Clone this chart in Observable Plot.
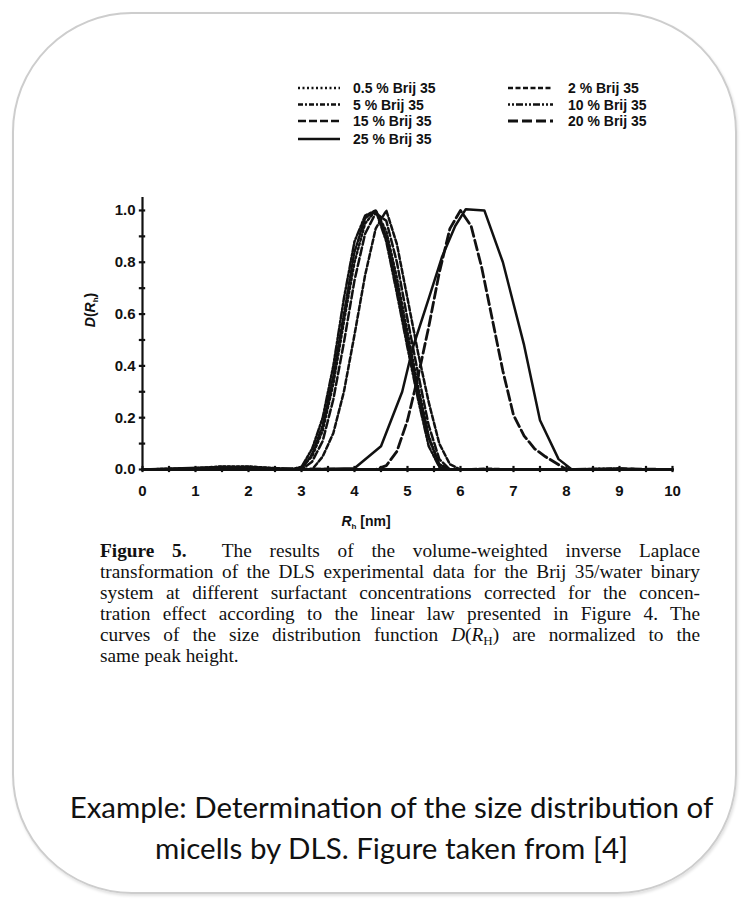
<!DOCTYPE html>
<html>
<head>
<meta charset="utf-8">
<script src="https://cdn.jsdelivr.net/npm/d3@7"></script>
<script src="https://cdn.jsdelivr.net/npm/@observablehq/plot@0.6"></script>
<style>
  html, body { margin: 0; padding: 0; background: #fff; }
  #page { position: relative; width: 753px; height: 901px; overflow: hidden; background: #fff; }
  #frame { position: absolute; left: 12px; top: 12px; width: 721px; height: 878px;
           border: 2px solid #cdcdcd; border-radius: 120px; box-shadow: 1px 2px 3px rgba(0,0,0,0.12); }
  #legend { position: absolute; left: 0; top: 0; width: 753px; height: 160px; }
  #chart { position: absolute; left: 0; top: 180px; }
  #caption { position: absolute; left: 100px; top: 540px; width: 600px;
             font-family: "Liberation Serif", "Times New Roman", serif; font-size: 19.3px; line-height: 21px; color: #111; }
  #caption div { text-align: justify; text-align-last: justify; white-space: nowrap; height: 21px; }
  #caption div.last { text-align-last: left; }
  #caption .sub { font-size: 13px; position: relative; top: 4px; }
  #example { position: absolute; left: 15px; width: 753px; top: 786px; text-align: center;
             font-family: Lato, "Open Sans", sans-serif; font-size: 29.5px; line-height: 41px; color: #111; }
</style>
</head>
<body>
<div id="page">
  <div id="frame"></div>
  <svg id="legend" width="753" height="160"></svg>
  <div id="chart"></div>
  <div id="caption">
    <div><b>Figure 5.</b>&nbsp; The results of the volume-weighted inverse Laplace</div>
    <div>transformation of the DLS experimental data for the Brij 35/water binary</div>
    <div>system at different surfactant concentrations corrected for the concen-</div>
    <div>tration effect according to the linear law presented in Figure 4. The</div>
    <div>curves of the size distribution function <i>D</i>(<i>R</i><span class="sub">H</span>) are normalized to the</div>
    <div class="last">same peak height.</div>
  </div>
  <div id="example">Example: Determination of the size distribution of<br>micells by DLS. Figure taken from [4]</div>
</div>
<script>
// ---- data ----
const seriesNames = ["0.5 % Brij 35", "2 % Brij 35", "5 % Brij 35", "10 % Brij 35", "15 % Brij 35", "20 % Brij 35", "25 % Brij 35"];
const seriesDash = ["2,2.5", "5,2.5", "5,2,2,2", "2,2,2,2,7,2", "8,3", "10,4", null];

const xGroup = [0, 1.0, 1.5, 2.0, 2.5, 2.8, 3.0, 3.2, 3.4, 3.6, 3.8, 4.0, 4.2, 4.4, 4.6, 4.8, 5.0, 5.2, 5.4, 5.6, 5.8, 6.0, 6.5, 7.0, 8.0, 9.0, 9.5, 10];
const y05 = [0, 0.005, 0.012, 0.012, 0.005, 0, 0.01, 0.05, 0.15, 0.33, 0.57, 0.80, 0.95, 1.0, 0.92, 0.74, 0.53, 0.32, 0.13, 0.02, 0, 0, 0, 0, 0, 0, 0, 0];
const y2  = [0, 0, 0.005, 0.005, 0, 0, 0, 0, 0.05, 0.14, 0.30, 0.52, 0.75, 0.93, 1.0, 0.87, 0.66, 0.45, 0.26, 0.10, 0.02, 0, 0.003, 0, 0, 0.004, 0, 0];
const y5  = [0, 0, 0.008, 0.01, 0, 0, 0, 0.06, 0.17, 0.36, 0.60, 0.84, 0.97, 1.0, 0.90, 0.71, 0.50, 0.30, 0.12, 0.02, 0, 0, 0, 0, 0, 0, 0, 0];
const y10 = [0, 0, 0.01, 0.008, 0, 0, 0.01, 0.08, 0.20, 0.40, 0.66, 0.88, 0.98, 1.0, 0.88, 0.68, 0.47, 0.27, 0.09, 0.01, 0, 0, 0, 0, 0, 0, 0, 0];
const y15 = [0, 0, 0.006, 0.006, 0, 0, 0, 0.03, 0.11, 0.27, 0.49, 0.73, 0.91, 0.99, 0.96, 0.80, 0.58, 0.37, 0.17, 0.04, 0, 0, 0, 0, 0, 0, 0, 0];

const x20 = [0, 2, 4.0, 4.4, 4.6, 4.8, 5.0, 5.2, 5.4, 5.6, 5.8, 6.0, 6.2, 6.4, 6.6, 6.8, 7.0, 7.2, 7.4, 7.6, 7.8, 8.0, 9, 10];
const y20 = [0, 0.005, 0, 0, 0.015, 0.07, 0.19, 0.36, 0.55, 0.76, 0.93, 1.0, 0.94, 0.78, 0.58, 0.38, 0.21, 0.13, 0.08, 0.05, 0.025, 0, 0.003, 0];

const x25 = [0, 1.5, 2.0, 3.0, 4.0, 4.5, 4.9, 5.1, 5.4, 5.65, 5.9, 6.1, 6.45, 6.8, 7.0, 7.2, 7.5, 7.85, 8.1, 9, 10];
const y25 = [0, 0.01, 0.01, 0, 0.005, 0.09, 0.30, 0.47, 0.66, 0.82, 0.94, 1.005, 1.0, 0.80, 0.64, 0.48, 0.19, 0.04, 0, 0, 0];

const xTicks = [0, 1, 2, 3, 4, 5, 6, 7, 8, 9, 10];
const xMinorTicks = [0, 0.5, 1, 1.5, 2, 2.5, 3, 3.5, 4, 4.5, 5, 5.5, 6, 6.5, 7, 7.5, 8, 8.5, 9, 9.5, 10];
const yTicks = [0, 0.2, 0.4, 0.6, 0.8, 1.0];
const yMinorTicks = [0, 0.1, 0.2, 0.3, 0.4, 0.5, 0.6, 0.7, 0.8, 0.9, 1.0];

// ---- build tables ----
const seriesX = [xGroup, xGroup, xGroup, xGroup, xGroup, x20, x25];
const seriesY = [y05, y2, y5, y10, y15, y20, y25];
const tables = seriesY.map((ys, i) => ys.map((v, j) => ({x: seriesX[i][j], y: v})));

const lineMarks = tables.map((t, i) => Plot.line(t, {
  x: "x", y: "y", stroke: "#111", strokeWidth: i === 5 ? 2.8 : 2.5,
  strokeDasharray: seriesDash[i] || undefined, strokeLinejoin: "round"
}));

const fam = "'Liberation Sans', Arial, sans-serif";
const plot = Plot.plot({
  width: 753, height: 360,
  marginLeft: 142, marginRight: 81, marginTop: 17, marginBottom: 71,
  x: {domain: [0, 10], label: null},
  y: {domain: [0, 1.05], label: null},
  style: {fontFamily: fam, fontSize: "15px", fontWeight: "bold", color: "#111", background: "transparent", overflow: "visible"},
  marks: [
    ...lineMarks,
    Plot.ruleX([0], {stroke: "#111", strokeWidth: 2.2}),
    Plot.ruleY([0], {stroke: "#111", strokeWidth: 2.8}),
    Plot.ruleX(xMinorTicks, {x: d => d, y1: -0.012, y2: 0.012, stroke: "#111", strokeWidth: 2.2}),
    Plot.ruleY(yMinorTicks, {y: d => d, x1: -0.06, x2: 0.06, stroke: "#111", strokeWidth: 2.2}),
    Plot.axisX({ticks: xTicks, tickSize: 0, tickPadding: 16, tickFormat: d => String(d), label: null, fontSize: 15, fontWeight: "bold"}),
    Plot.axisY({ticks: yTicks, tickSize: 0, tickPadding: 7, tickFormat: d => d.toFixed(1), label: null, fontSize: 15, fontWeight: "bold"})
  ]
});
document.getElementById("chart").appendChild(plot);

// axis titles (rich text)
const svg = d3.select(plot);
const yl = svg.append("text").attr("transform", "translate(95,130) rotate(-90)")
  .attr("text-anchor", "middle").attr("font-family", fam).attr("font-size", 14).attr("font-weight", "bold").attr("fill", "#111");
yl.append("tspan").attr("font-style", "italic").text("D");
yl.append("tspan").text("(");
yl.append("tspan").attr("font-style", "italic").text("R");
yl.append("tspan").attr("font-size", 8).attr("dy", 3).text("h");
yl.append("tspan").attr("dy", -3).text(")");

const xl = svg.append("text").attr("transform", "translate(366,346)")
  .attr("text-anchor", "middle").attr("font-family", fam).attr("font-size", 14).attr("font-weight", "bold").attr("fill", "#111");
xl.append("tspan").attr("font-style", "italic").text("R");
xl.append("tspan").attr("font-size", 8).attr("dy", 3).text("h");
xl.append("tspan").attr("dy", -3).text(" [nm]");

// ---- legend ----
const leg = d3.select("#legend");
const legendPos = [
  {lx: 298, ly: 88}, {lx: 508, ly: 88},
  {lx: 298, ly: 104.5}, {lx: 508, ly: 104.5},
  {lx: 298, ly: 121}, {lx: 508, ly: 121},
  {lx: 298, ly: 139}
];
seriesNames.forEach((name, i) => {
  const p = legendPos[i];
  const len = p.lx > 400 ? 45 : 42;
  leg.append("line").attr("x1", p.lx).attr("x2", p.lx + len).attr("y1", p.ly).attr("y2", p.ly)
    .attr("stroke", "#111").attr("stroke-width", i === 5 ? 3 : 2.5)
    .attr("stroke-dasharray", seriesDash[i] || null);
  leg.append("text").attr("x", p.lx + (p.lx > 400 ? 60 : 55)).attr("y", p.ly + 5)
    .attr("font-family", fam).attr("font-size", 14).attr("font-weight", "bold").attr("fill", "#111").text(name);
});
</script>
</body>
</html>
